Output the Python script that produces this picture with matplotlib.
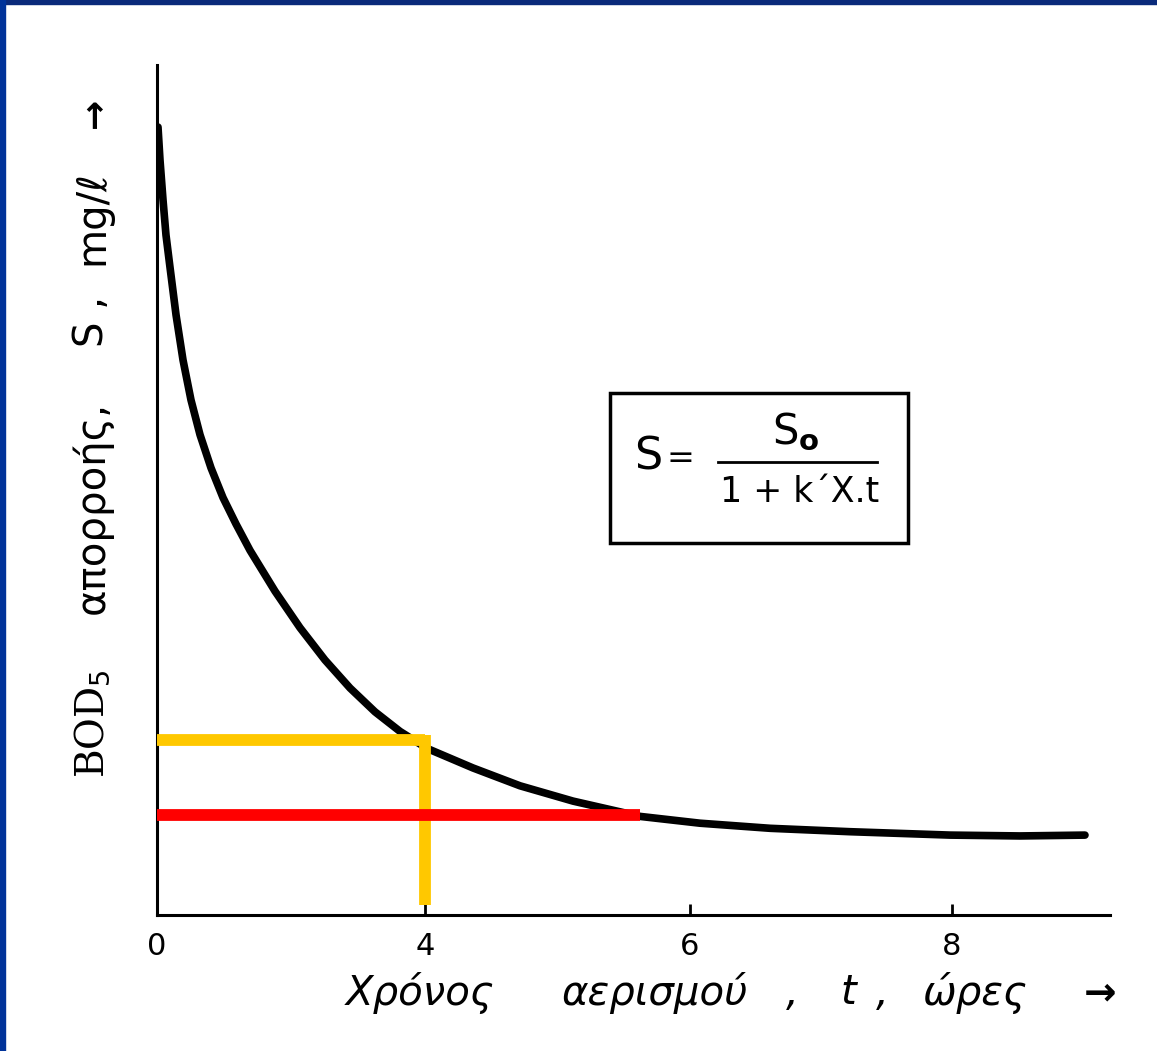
import numpy as np
import matplotlib.pyplot as plt
from matplotlib.patches import Rectangle
from matplotlib.lines import Line2D

# BOD5 of the effluent against aeration time (hours), arbitrary S units
t_hours = [0.015, 0.045, 0.090, 0.134, 0.194, 0.284, 0.388, 0.507, 0.642, 0.806,
           0.985, 1.179, 1.388, 1.761, 2.134, 2.507, 2.881, 3.254, 3.627, 4.015,
           4.362, 4.717, 5.117, 5.623, 6.076, 6.611, 7.221, 7.985, 8.516, 9.010]
S_values = [92.7, 88.8, 84.1, 80.0, 76.2, 70.6, 65.3, 60.6, 56.5, 52.6,
            49.1, 46.0, 42.9, 38.1, 33.8, 30.0, 26.7, 23.9, 21.6, 19.6,
            17.3, 15.2, 13.4, 11.6, 10.8, 10.2, 9.8, 9.4, 9.3, 9.4]

# reading lines: S at t = 4 h (yellow) and the lower effluent level (red)
t_read = 4.0
S_read = 20.6
S_low = 11.8
t_low_end = 5.62

xtick_pos = [0, 4, 6, 8]
xtick_labels = ['0', '4', '6', '8']

# hand drawn time axis: 0-4 squeezed into the same length as 4-6
grid_t = [0, 4, 6, 8, 9.2]
grid_u = [0, 268, 533, 795, 953]


def fwd(t):
    return np.interp(t, grid_t, grid_u, left=-1e3, right=1e4)


def inv(u):
    return np.interp(u, grid_u, grid_t, left=-1, right=20)


W, H = 1157, 1051
fig = plt.figure(figsize=(W / 100, H / 100), dpi=100)
fig.patch.set_facecolor('white')


def fx(x):
    return x / W


def fy(y):
    return 1 - y / H


ax = fig.add_axes([fx(157), fy(915), fx(1110) - fx(157), fy(65) - fy(915)])
ax.set_xscale('function', functions=(fwd, inv))
ax.set_xlim(0, 9.2)
ax.set_ylim(0, 100)

ax.plot(t_hours, S_values, color='black', lw=5.5, solid_capstyle='round',
        solid_joinstyle='round', zorder=3)
ax.plot([0, t_read], [S_read, S_read], color='#ffc800', lw=8.5, solid_capstyle='butt', zorder=4)
ax.plot([t_read, t_read], [S_read + 0.6, 1.2], color='#ffc800', lw=8.5, solid_capstyle='butt', zorder=4)
ax.plot([0, t_low_end], [S_low, S_low], color='#ff0000', lw=8.5, solid_capstyle='butt', zorder=5)

for side in ['top', 'right']:
    ax.spines[side].set_visible(False)
for side in ['left', 'bottom']:
    ax.spines[side].set_linewidth(2.2)
    ax.spines[side].set_color('black')

ax.set_xticks(xtick_pos)
ax.set_xticklabels(xtick_labels)
ax.xaxis.set_minor_locator(plt.NullLocator())
ax.tick_params(axis='x', direction='in', length=8, width=2, pad=12, labelsize=22)
ax.set_yticks([])

# x axis title, written out word by word
xlabel_parts = [('Χρόνος', 420), ('αερισμού', 655), (',', 792), ('t', 848), (',', 882), ('ώρες', 975)]
for txt, xp in xlabel_parts:
    fig.text(fx(xp), fy(993), txt, fontsize=29, style='italic', ha='center', va='center')
fig.text(fx(1100), fy(993), '→', fontsize=28, fontweight='bold', ha='center', va='center')

# y axis title, rotated, read bottom to top
ylabel_parts = [('απορροής,', 507), ('S ,', 322), ('mg/ℓ', 218)]
for txt, yp in ylabel_parts:
    fig.text(fx(92), fy(yp), txt, fontsize=29, rotation=90, ha='center', va='center')
fig.text(fx(92), fy(724), r'BOD$_5$', fontsize=28, family='DejaVu Serif',
         rotation=90, ha='center', va='center')
fig.text(fx(95), fy(113), '→', fontsize=26, fontweight='bold', rotation=90,
         ha='center', va='center')

# formula box
fig.patches.append(Rectangle((fx(610), fy(543)), fx(908) - fx(610), fy(393) - fy(543),
                             transform=fig.transFigure, fill=False, lw=2.5, ec='black'))
fig.text(fx(648), fy(457), 'S', fontsize=32, ha='center', va='center')
fig.text(fx(680), fy(459), '=', fontsize=24, ha='center', va='center')
fig.text(fx(796), fy(432), r'S$_{\mathbf{o}}$', fontsize=30, ha='center', va='center')
fig.lines.append(Line2D([fx(718), fx(877)], [fy(462), fy(462)], transform=fig.transFigure,
                        color='black', lw=2))
fig.text(fx(800), fy(492), "1 + k΄X.t", fontsize=25, ha='center', va='center')

# blue frame along the top and left edges
fig.patches.append(Rectangle((0, fy(4)), 1, fy(0) - fy(4), transform=fig.transFigure,
                             color='#0a2a7a', zorder=10))
fig.patches.append(Rectangle((0, 0), fx(5), 1, transform=fig.transFigure,
                             color='#00339a', zorder=10))

fig.savefig('out.png', dpi=100)
